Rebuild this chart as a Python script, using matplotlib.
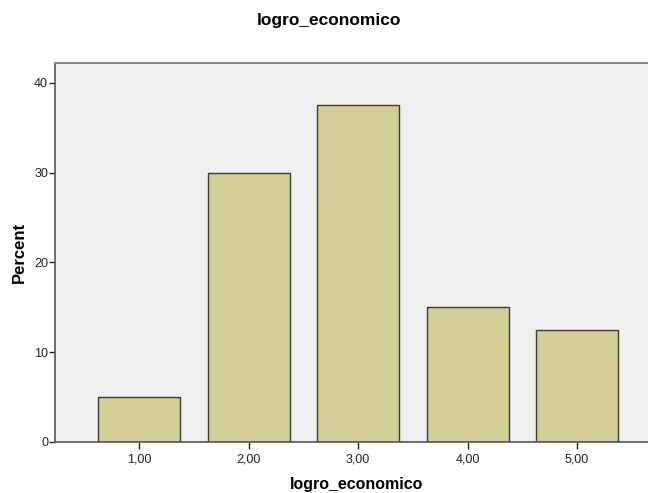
import matplotlib.pyplot as plt

plt.rcParams['font.family'] = ['Liberation Sans', 'DejaVu Sans']

categories = ['1,00', '2,00', '3,00', '4,00', '5,00']
percent = [5.0, 30.0, 37.5, 15.0, 12.5]

W, H = 648, 493
fig = plt.figure(figsize=(W / 100, H / 100), dpi=100)
ax = fig.add_axes([55 / W, 1 - 442 / H, 1 - 55 / W, (442 - 63) / H])
ax.set_facecolor('#efefef')

pos = list(range(1, len(categories) + 1))
ax.bar(pos, percent, width=0.75, color='#d3ce97', edgecolor='#3a3a3a', linewidth=1.0, zorder=2)

ax.set_xlim(0.228, 5.65)
ax.set_ylim(0, 42.2)
ax.set_xticks(pos)
ax.set_xticklabels(categories, fontsize=9, color='#222222')
ax.set_yticks([0, 10, 20, 30, 40])
ax.tick_params(axis='y', labelsize=9, length=4, width=1, colors='#222222', pad=1)
ax.tick_params(axis='x', length=5, width=1, colors='#222222', pad=3)

ax.spines['right'].set_visible(False)
ax.spines['top'].set_color('#888888')
ax.spines['top'].set_linewidth(1.5)
for s in ('left', 'bottom'):
    ax.spines[s].set_color('#555555')
    ax.spines[s].set_linewidth(1.2)

# titles placed in figure pixels
fig.text(329 / W, 1 - 21 / H, 'logro_economico', ha='center', va='center',
         fontsize=12.5, fontweight='bold')
fig.text(357 / W, 1 - 484 / H, 'logro_economico', ha='center', va='center',
         fontsize=11.5, fontweight='bold')
fig.text(19 / W, 1 - 252 / H, 'Percent', ha='center', va='center', rotation=90,
         fontsize=12, fontweight='bold')

fig.savefig('out.png', dpi=100)
